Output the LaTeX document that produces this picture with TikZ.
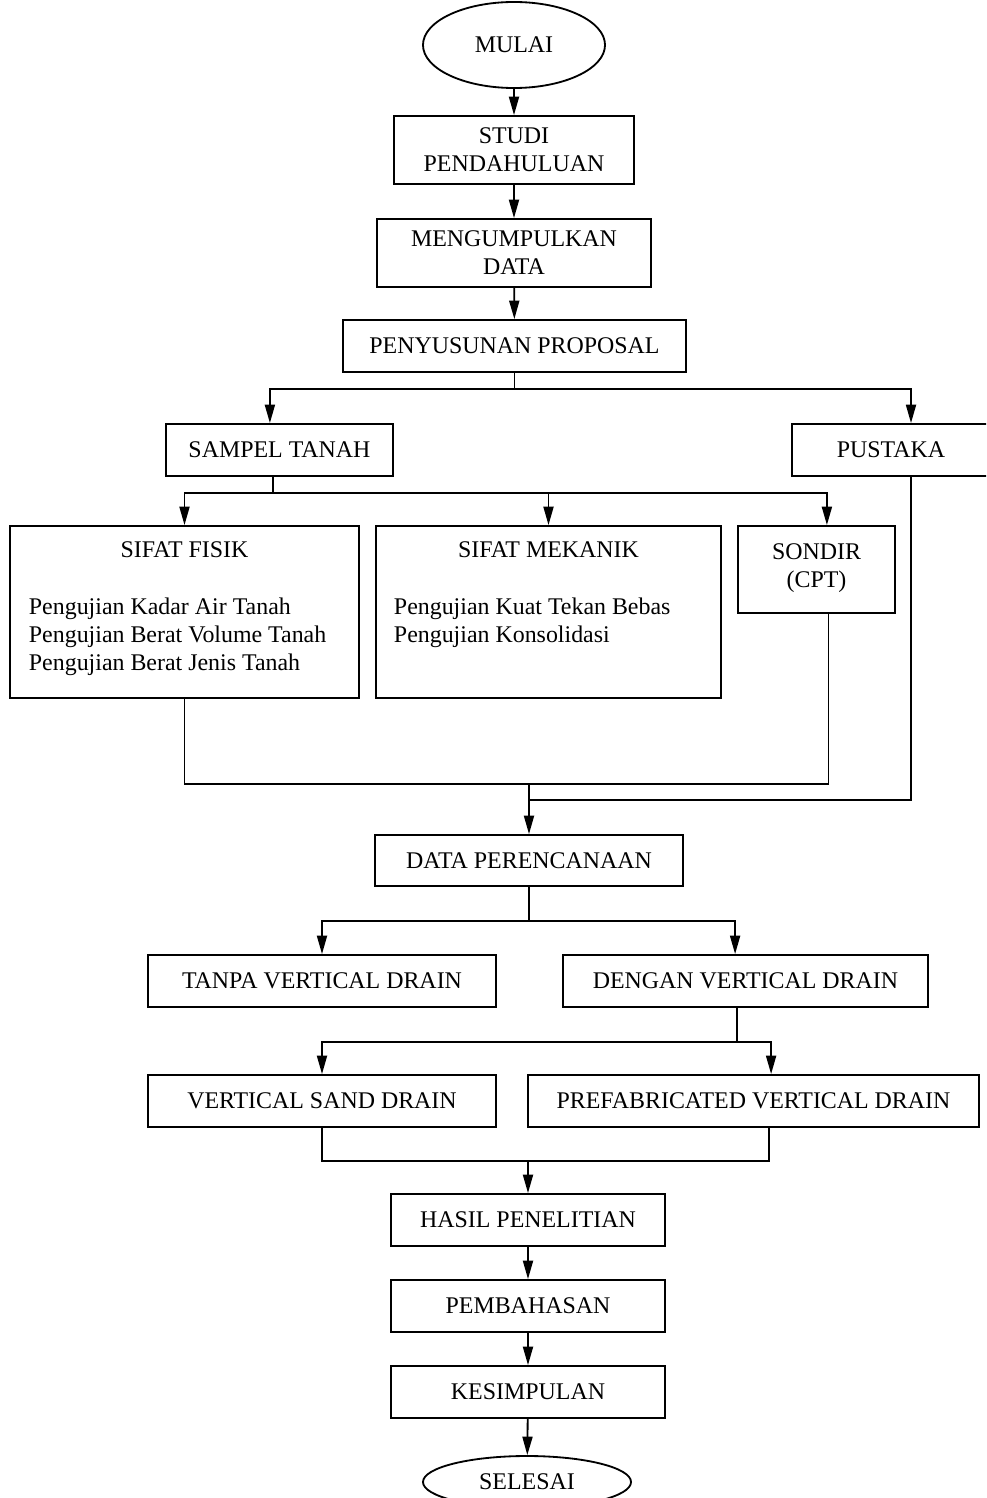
\documentclass[tikz,border=0pt]{standalone}
\usepackage{fontspec}
\setmainfont{Liberation Serif}
\usetikzlibrary{shapes,arrows.meta,positioning,calc}

\begin{document}
\begin{tikzpicture}[x=0.025cm,y=-0.025cm,
>={Triangle[length=0.46cm,width=0.25cm]},
line width=1.3pt,
font=\fontsize{17}{20}\selectfont,
kotak/.style={draw,rectangle,align=center,inner sep=0pt,minimum height=1.3cm},
terminal/.style={draw,ellipse,inner sep=0pt},
teks/.style={inner sep=0pt,align=left}]
\useasboundingbox (0,0) rectangle (986,1498);
\clip (0,0) rectangle (986,1498);
\node[terminal,minimum width=4.55cm,minimum height=2.15cm] (mulai) at (514,45) {MULAI};
\node[kotak,minimum width=6cm,minimum height=1.7cm] (studi) at (514,150) {STUDI\\PENDAHULUAN};
\node[kotak,minimum width=6.85cm,minimum height=1.7cm] (data1) at (514,253) {MENGUMPULKAN\\DATA};
\node[kotak,minimum width=8.575cm] (proposal) at (514.5,346) {PENYUSUNAN PROPOSAL};
\node[kotak,minimum width=5.675cm] (sampel) at (279.5,450) {SAMPEL TANAH};
\node[kotak,minimum width=4.95cm] (pustaka) at (891,450) {PUSTAKA};
\node[kotak,minimum width=8.725cm,minimum height=4.3cm] (fisik) at (184.5,612) {};
\node[kotak,minimum width=8.625cm,minimum height=4.3cm] (mekanik) at (548.5,612) {};
\node[kotak,minimum width=3.925cm,minimum height=2.175cm] (sondir) at (816.5,569.5) {};
\node[teks,align=center] (judulsondir) at ($(sondir.north)+(0,43)$) {SONDIR\\(CPT)};
\node[teks] (judulfisik) at ($(fisik.north)+(0,25)$) {SIFAT FISIK};
\node[teks,anchor=west] (ujifisik) at ($(fisik.west)+(19,25)$)
  {Pengujian Kadar Air Tanah\\Pengujian Berat Volume Tanah\\Pengujian Berat Jenis Tanah};
\node[teks] (judulmekanik) at ($(mekanik.north)+(0,25)$) {SIFAT MEKANIK};
\node[teks,anchor=west] (ujimekanik) at ($(mekanik.west)+(18,11)$)
  {Pengujian Kuat Tekan Bebas\\Pengujian Konsolidasi};
\node[kotak,minimum width=7.7cm,minimum height=1.275cm] (rencana) at (529,860.5) {DATA PERENCANAAN};
\node[kotak,minimum width=8.7cm] (tanpa) at (322,981) {TANPA VERTICAL DRAIN};
\node[kotak,minimum width=9.125cm] (dengan) at (745.5,981) {DENGAN VERTICAL DRAIN};
\node[kotak,minimum width=8.7cm] (vsd) at (322,1101) {VERTICAL SAND DRAIN};
\node[kotak,minimum width=11.275cm] (pvd) at (753.5,1101) {PREFABRICATED VERTICAL DRAIN};
\node[kotak,minimum width=6.85cm] (hasil) at (528,1220) {HASIL PENELITIAN};
\node[kotak,minimum width=6.85cm] (bahas) at (528,1306) {PEMBAHASAN};
\node[kotak,minimum width=6.85cm] (simpul) at (528,1392) {KESIMPULAN};
\node[terminal,minimum width=5.2cm,minimum height=1.3cm] (selesai) at (527,1482) {SELESAI};
\draw[->] (mulai) -- (studi);
\draw[->] (studi) -- (data1);
\draw[->] (data1) -- (proposal);
\draw (proposal.south) -- ++(0,16) coordinate (bagi1);
\draw[->] (bagi1) -| ([xshift=-0.24cm]sampel.north);
\draw[->] (bagi1) -| ([xshift=0.5cm]pustaka.north);
\draw ([xshift=-0.16cm]sampel.south) -- ++(0,16) coordinate (bagi2);
\draw[->] (bagi2) -| (fisik.north);
\draw[->] (bagi2) -| (mekanik.north);
\draw[->] (bagi2) -| ([xshift=0.26cm]sondir.north);
\draw (fisik.south) -- ++(0,85) coordinate (kumpul1) -| ([xshift=0.3cm]sondir.south);
\coordinate (gabung) at (529,800);
\draw ([xshift=0.5cm]pustaka.south) |- (gabung);
\draw[->] (kumpul1 -| rencana.north) -- (rencana.north);
\draw (rencana.south) -- ++(0,34) coordinate (bagi3);
\draw[->] (bagi3) -| (tanpa.north);
\draw[->] (bagi3) -| ([xshift=-0.26cm]dengan.north);
\draw ([xshift=-0.21cm]dengan.south) -- ++(0,34) coordinate (bagi4);
\draw[->] (bagi4) -| (vsd.north);
\draw[->] (bagi4) -| ([xshift=0.44cm]pvd.north);
\draw (vsd.south) -- ++(0,33) coordinate (kumpul2) -| ([xshift=0.39cm]pvd.south);
\draw[->] (kumpul2 -| hasil.north) -- (hasil.north);
\draw[->] (hasil) -- (bahas);
\draw[->] (bahas) -- (simpul);
\draw[->] (simpul) -- (selesai);
\end{tikzpicture}
\end{document}
